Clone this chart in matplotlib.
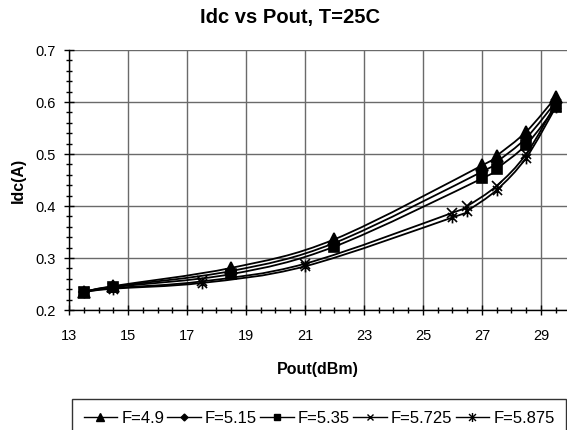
import matplotlib
matplotlib.use("Agg")
import matplotlib.pyplot as plt
from matplotlib.path import Path
from matplotlib.patches import PathPatch
from matplotlib.lines import Line2D
from matplotlib.ticker import MultipleLocator
import numpy as np

plt.rcParams['font.family'] = ['Liberation Sans', 'DejaVu Sans']

labels = ["F=4.9", "F=5.15", "F=5.35", "F=5.725", "F=5.875"]
x_filled = [13.5, 14.5, 18.5, 22, 27, 27.5, 28.5, 29.5]
x_cross = [13.5, 14.5, 17.5, 21, 26, 26.5, 27.5, 28.5, 29.5]
y_f49 = [0.235, 0.246, 0.281, 0.336, 0.478, 0.497, 0.543, 0.609]
y_f515 = [0.235, 0.245, 0.275, 0.329, 0.466, 0.485, 0.531, 0.600]
y_f535 = [0.235, 0.244, 0.269, 0.322, 0.453, 0.472, 0.518, 0.590]
y_f5725 = [0.235, 0.242, 0.255, 0.289, 0.387, 0.400, 0.439, 0.500, 0.597]
y_f5875 = [0.235, 0.241, 0.252, 0.284, 0.378, 0.391, 0.431, 0.493, 0.590]

xs = [x_filled, x_filled, x_filled, x_cross, x_cross]
ys = [y_f49, y_f515, y_f535, y_f5725, y_f5875]

star = Path([(-1, -1), (1, 1), (-1, 1), (1, -1), (0, -1.3), (0, 1.3)],
            [Path.MOVETO, Path.LINETO, Path.MOVETO, Path.LINETO, Path.MOVETO, Path.LINETO])
markers = ['^', 'D', 's', 'x', star]
msizes = [8, 5.5, 6.5, 7, 8.5]

fig = plt.figure(figsize=(5.67, 4.30), dpi=100)
ax = fig.add_axes([69/567, 120/430, (567-69)/567, 260/430])


def smooth_path(x, y):
    p = np.column_stack([x, y])
    n = len(p)
    verts = [tuple(p[0])]
    codes = [Path.MOVETO]
    for i in range(n - 1):
        p0 = p[i - 1] if i > 0 else p[i]
        p1 = p[i]
        p2 = p[i + 1]
        p3 = p[i + 2] if i + 2 < n else p[i + 1]
        c1 = p1 + (p2 - p0) / 6.0
        c2 = p2 - (p3 - p1) / 6.0
        verts += [tuple(c1), tuple(c2), tuple(p2)]
        codes += [Path.CURVE4] * 3
    return Path(verts, codes)


handles = []
for x, y, m, ms, lab in zip(xs, ys, markers, msizes, labels):
    patch = PathPatch(smooth_path(x, y), facecolor='none', edgecolor='black',
                      lw=1.3, zorder=3)
    ax.add_patch(patch)
    ax.plot(x, y, linestyle='none', marker=m, markersize=ms, color='black',
            markeredgewidth=1.2, zorder=4)
    handles.append(Line2D([], [], color='black', lw=1.0, marker=m,
                          markersize=ms - 2, markeredgewidth=1.0, label=lab))

ax.set_xlim(13, 13 + (567 - 69) / 29.5)
ax.set_ylim(0.2, 0.7)
ax.xaxis.set_minor_locator(MultipleLocator(0.5))
ax.yaxis.set_minor_locator(MultipleLocator(0.02))
ax.set_xticks(np.arange(13, 30, 2))
ax.set_yticks(np.arange(0.2, 0.71, 0.1))
ax.set_yticklabels([f"{v:.1f}" for v in np.arange(0.2, 0.71, 0.1)])
ax.grid(True, which='major', color='#6a6a6a', lw=1.0)
ax.set_axisbelow(True)
for s in ['top', 'right']:
    ax.spines[s].set_visible(False)
ax.spines['left'].set_linewidth(1.0)
ax.spines['bottom'].set_linewidth(1.0)
ax.tick_params(which='major', direction='inout', length=7, width=1.0,
               labelsize=10.5, pad=6)
ax.tick_params(which='minor', direction='inout', length=5, width=1.0)
ax.tick_params(axis='x', pad=10)

ax.set_xlabel("Pout(dBm)", fontsize=11.5, fontweight='bold', labelpad=14)
ax.set_ylabel("Idc(A)", fontsize=11.5, fontweight='bold', labelpad=7)
fig.text(290/567, 1 - 18/430, "Idc vs Pout, T=25C", ha='center', va='center',
         fontsize=14.5, fontweight='bold')

leg = fig.legend(handles=handles, loc='upper left',
                 bbox_to_anchor=(72/567, 1 - 399/430), ncol=5, frameon=True,
                 fancybox=False, edgecolor='black', fontsize=12,
                 handlelength=2.0, handletextpad=0.25, columnspacing=0.2,
                 borderpad=0.7, borderaxespad=0)
leg.get_frame().set_linewidth(1.0)

fig.savefig("out.png", dpi=100)
